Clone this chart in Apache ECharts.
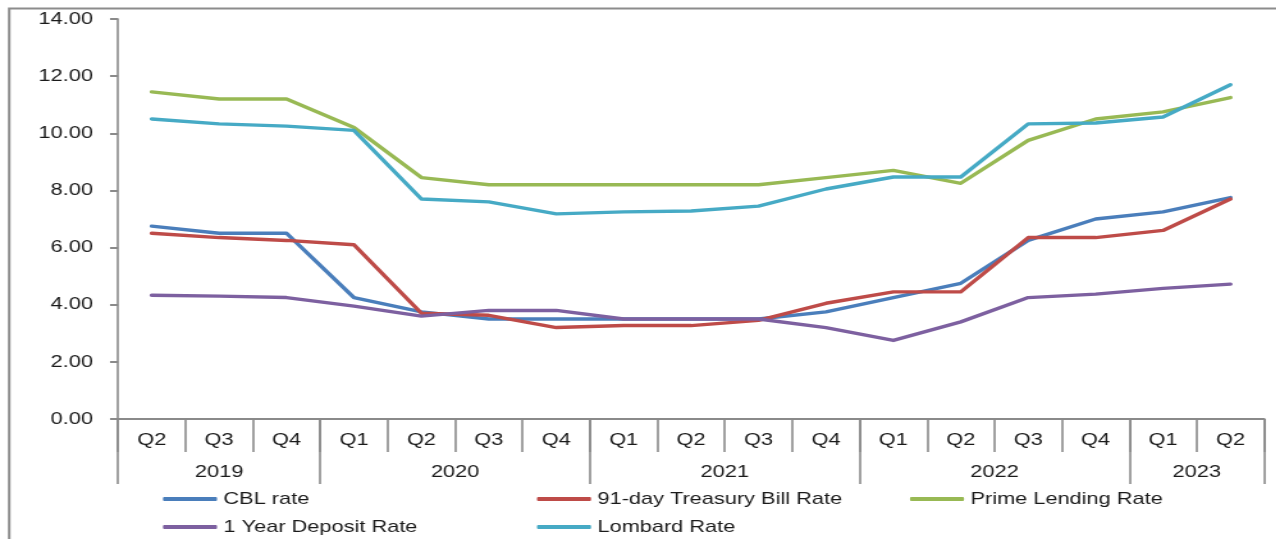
<!DOCTYPE html>
<html>
<head>
<meta charset="utf-8">
<script src="https://cdn.jsdelivr.net/npm/echarts@6/dist/echarts.min.js"></script>
<style>
html,body{margin:0;padding:0;background:#fff;overflow:hidden;}
#wrap{width:1276px;height:539px;overflow:hidden;}
#chart{width:997px;height:539px;transform:scaleX(1.28);transform-origin:0 0;}
</style>
</head>
<body>
<div id="wrap"><div id="chart"></div></div>
<script>
var quarters = ['Q2','Q3','Q4','Q1','Q2','Q3','Q4','Q1','Q2','Q3','Q4','Q1','Q2','Q3','Q4','Q1','Q2'];
var years = ['2019','2020','2021','2022','2023'];
var yearStart = [0, 3, 7, 11, 15];
var yearEnd = [3, 7, 11, 15, 17];
var yTicks = [0, 2, 4, 6, 8, 10, 12, 14];

var cblRate     = [6.75, 6.50, 6.50, 4.25, 3.75, 3.50, 3.50, 3.50, 3.50, 3.50, 3.75, 4.25, 4.75, 6.25, 7.00, 7.25, 7.75];
var tbillRate   = [6.50, 6.35, 6.25, 6.10, 3.70, 3.63, 3.20, 3.27, 3.27, 3.45, 4.05, 4.45, 4.45, 6.35, 6.35, 6.60, 7.70];
var primeRate   = [11.45, 11.20, 11.20, 10.20, 8.45, 8.20, 8.20, 8.20, 8.20, 8.20, 8.45, 8.70, 8.25, 9.75, 10.50, 10.75, 11.25];
var depositRate = [4.33, 4.30, 4.25, 3.95, 3.60, 3.80, 3.80, 3.50, 3.50, 3.50, 3.20, 2.75, 3.40, 4.25, 4.37, 4.57, 4.72];
var lombardRate = [10.50, 10.33, 10.25, 10.10, 7.70, 7.60, 7.18, 7.25, 7.28, 7.45, 8.05, 8.47, 8.47, 10.33, 10.36, 10.57, 11.70];

var seriesNames = ['CBL rate', '91-day Treasury Bill Rate', 'Prime Lending Rate', '1 Year Deposit Rate', 'Lombard Rate'];
var seriesData = [cblRate, tbillRate, primeRate, depositRate, lombardRate];
var seriesColors = ['#4A7EBB', '#BE4B48', '#98B954', '#7D60A0', '#46AAC5'];

var SX = 1.28; // horizontal stretch of the original picture
var FONT = '"Liberation Sans", Arial, sans-serif';
var AXIS_COLOR = '#8a8a8a';
var TEXT_COLOR = '#1a1a1a';

function px(v) { return v / SX; }

var yearCenters = {};
years.forEach(function (y, i) { yearCenters[(yearStart[i] + yearEnd[i]) / 2] = y; });

var chart = echarts.init(document.getElementById('chart'), null, {renderer: 'canvas'});

var legendCommon = {
  orient: 'vertical',
  top: 489,
  padding: 0,
  itemGap: 8,
  itemWidth: px(54),
  itemHeight: 4,
  icon: 'roundRect',
  selectedMode: false,
  textStyle: {fontFamily: FONT, fontSize: 17, color: TEXT_COLOR, lineHeight: 20}
};

var option = {
  backgroundColor: '#ffffff',
  animation: false,
  graphic: [{
    type: 'rect',
    left: px(6), top: 6,
    shape: {x: 0, y: 0, width: 1400, height: 700},
    style: {fill: 'none', stroke: '#8c8c8c', lineWidth: 2},
    silent: true
  }],
  grid: {left: px(118), right: px(12), top: 19, bottom: 120, containLabel: false},
  legend: [
    Object.assign({}, legendCommon, {left: px(163), data: [seriesNames[0], seriesNames[3]]}),
    Object.assign({}, legendCommon, {left: px(537), data: [seriesNames[1], seriesNames[4]]}),
    Object.assign({}, legendCommon, {left: px(910), data: [seriesNames[2]]})
  ],
  xAxis: [
    {
      type: 'category',
      data: quarters,
      position: 'bottom',
      boundaryGap: true,
      axisLine: {show: true, lineStyle: {color: AXIS_COLOR, width: 2}},
      axisTick: {show: true, interval: 0, length: 33, lineStyle: {color: AXIS_COLOR, width: 1.6}},
      axisLabel: {interval: 0, margin: 13, fontFamily: FONT, fontSize: 17, color: TEXT_COLOR},
      splitLine: {show: false}
    },
    {
      type: 'category',
      data: quarters,
      position: 'bottom',
      boundaryGap: true,
      axisLine: {show: false},
      axisTick: {
        show: true, length: 65,
        interval: function (idx) { return yearStart.indexOf(idx) >= 0; },
        lineStyle: {color: AXIS_COLOR, width: 1.6}
      },
      axisLabel: {show: false},
      splitLine: {show: false}
    },
    {
      type: 'value',
      position: 'bottom',
      min: 0, max: 17, interval: 0.5,
      axisLine: {show: false},
      axisTick: {show: false},
      splitLine: {show: false},
      axisLabel: {
        show: true, margin: 45, fontFamily: FONT, fontSize: 17, color: TEXT_COLOR,
        showMinLabel: true, showMaxLabel: true,
        formatter: function (v) { return yearCenters[v] || ''; }
      }
    }
  ],
  yAxis: {
    type: 'value',
    min: yTicks[0], max: yTicks[yTicks.length - 1], interval: 2,
    axisLine: {show: true, lineStyle: {color: AXIS_COLOR, width: 1.6}},
    axisTick: {show: true, length: px(8), lineStyle: {color: AXIS_COLOR, width: 2}},
    splitLine: {show: false},
    axisLabel: {
      margin: px(25), fontFamily: FONT, fontSize: 17, color: TEXT_COLOR,
      formatter: function (v) { return v.toFixed(2); }
    }
  },
  series: seriesNames.map(function (name, i) {
    return {
      name: name,
      type: 'line',
      xAxisIndex: 0,
      data: seriesData[i],
      symbol: 'none',
      smooth: false,
      itemStyle: {color: seriesColors[i]},
      lineStyle: {color: seriesColors[i], width: 3.4, cap: 'round', join: 'round'},
      z: 2 + i
    };
  })
};

chart.setOption(option);
</script>
</body>
</html>
